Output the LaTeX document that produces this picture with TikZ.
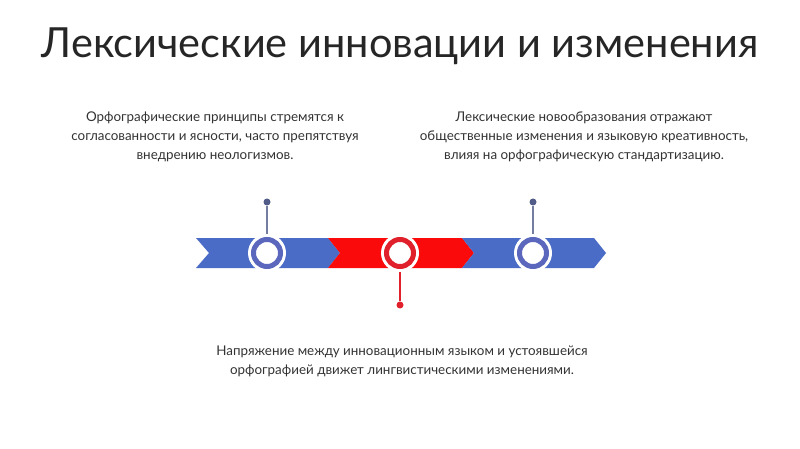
\documentclass[tikz,border=0pt]{standalone}
\usepackage{fontspec}
\setmainfont{Lato}
\definecolor{bl}{HTML}{4A6BC6}
\definecolor{rd}{HTML}{FA0A0A}
\definecolor{ringb}{HTML}{5B67BC}
\definecolor{ringr}{HTML}{E0202A}
\definecolor{pin}{HTML}{525C88}
\definecolor{txt}{HTML}{333333}
\begin{document}
\begin{tikzpicture}[x=1pt,y=-1pt,
  body/.style={text=txt,font=\fontsize{13.4}{19}\selectfont,align=center},
  pindot/.style={circle,inner sep=0pt,minimum size=7pt}]
\useasboundingbox (0,0) rectangle (800,449);
\fill[white] (0,0) rectangle (800,449);
\node[text=black!85,font=\fontsize{41.5}{48}\selectfont] (title) at (400,46) {Лексические инновации и изменения};
% chevrons
\fill[bl] (196,238) -- (328,238) -- (340,253) -- (328,268) -- (196,268) -- (209,253) -- cycle;
\fill[rd] (328,238) -- (462,238) -- (474,253) -- (462,268) -- (328,268) -- (340,253) -- cycle;
\fill[bl] (462,238) -- (594,238) -- (606,253) -- (594,268) -- (462,268) -- (474,253) -- cycle;
% pins
\node[pindot,fill=pin] (d1) at (267,202) {};
\node[pindot,fill=pin] (d3) at (533,202) {};
\node[pindot,fill=ringr] (d2) at (400,305) {};
\coordinate (c1) at (267,253);
\coordinate (c2) at (400,253);
\coordinate (c3) at (533,253);
\draw[pin!80,line width=1.2pt] (d1) -- (c1);
\draw[pin!80,line width=1.2pt] (d3) -- (c3);
\draw[ringr,line width=1.2pt] (d2) -- (c2);
\foreach \c/\col in {c1/ringb,c2/ringr,c3/ringb}{
  \fill[white] (\c) circle (19);
  \draw[\col,line width=5pt] (\c) circle (13.5);
}
\node[body] (t1) at (215,137) {Орфографические принципы стремятся к\\согласованности и ясности, часто препятствуя\\внедрению неологизмов.};
\node[body] (t2) at (584,137) {Лексические новообразования отражают\\общественные изменения и языковую креативность,\\влияя на орфографическую стандартизацию.};
\node[body] (t3) at (402,361) {Напряжение между инновационным языком и устоявшейся\\орфографией движет лингвистическими изменениями.};
\end{tikzpicture}
\end{document}
